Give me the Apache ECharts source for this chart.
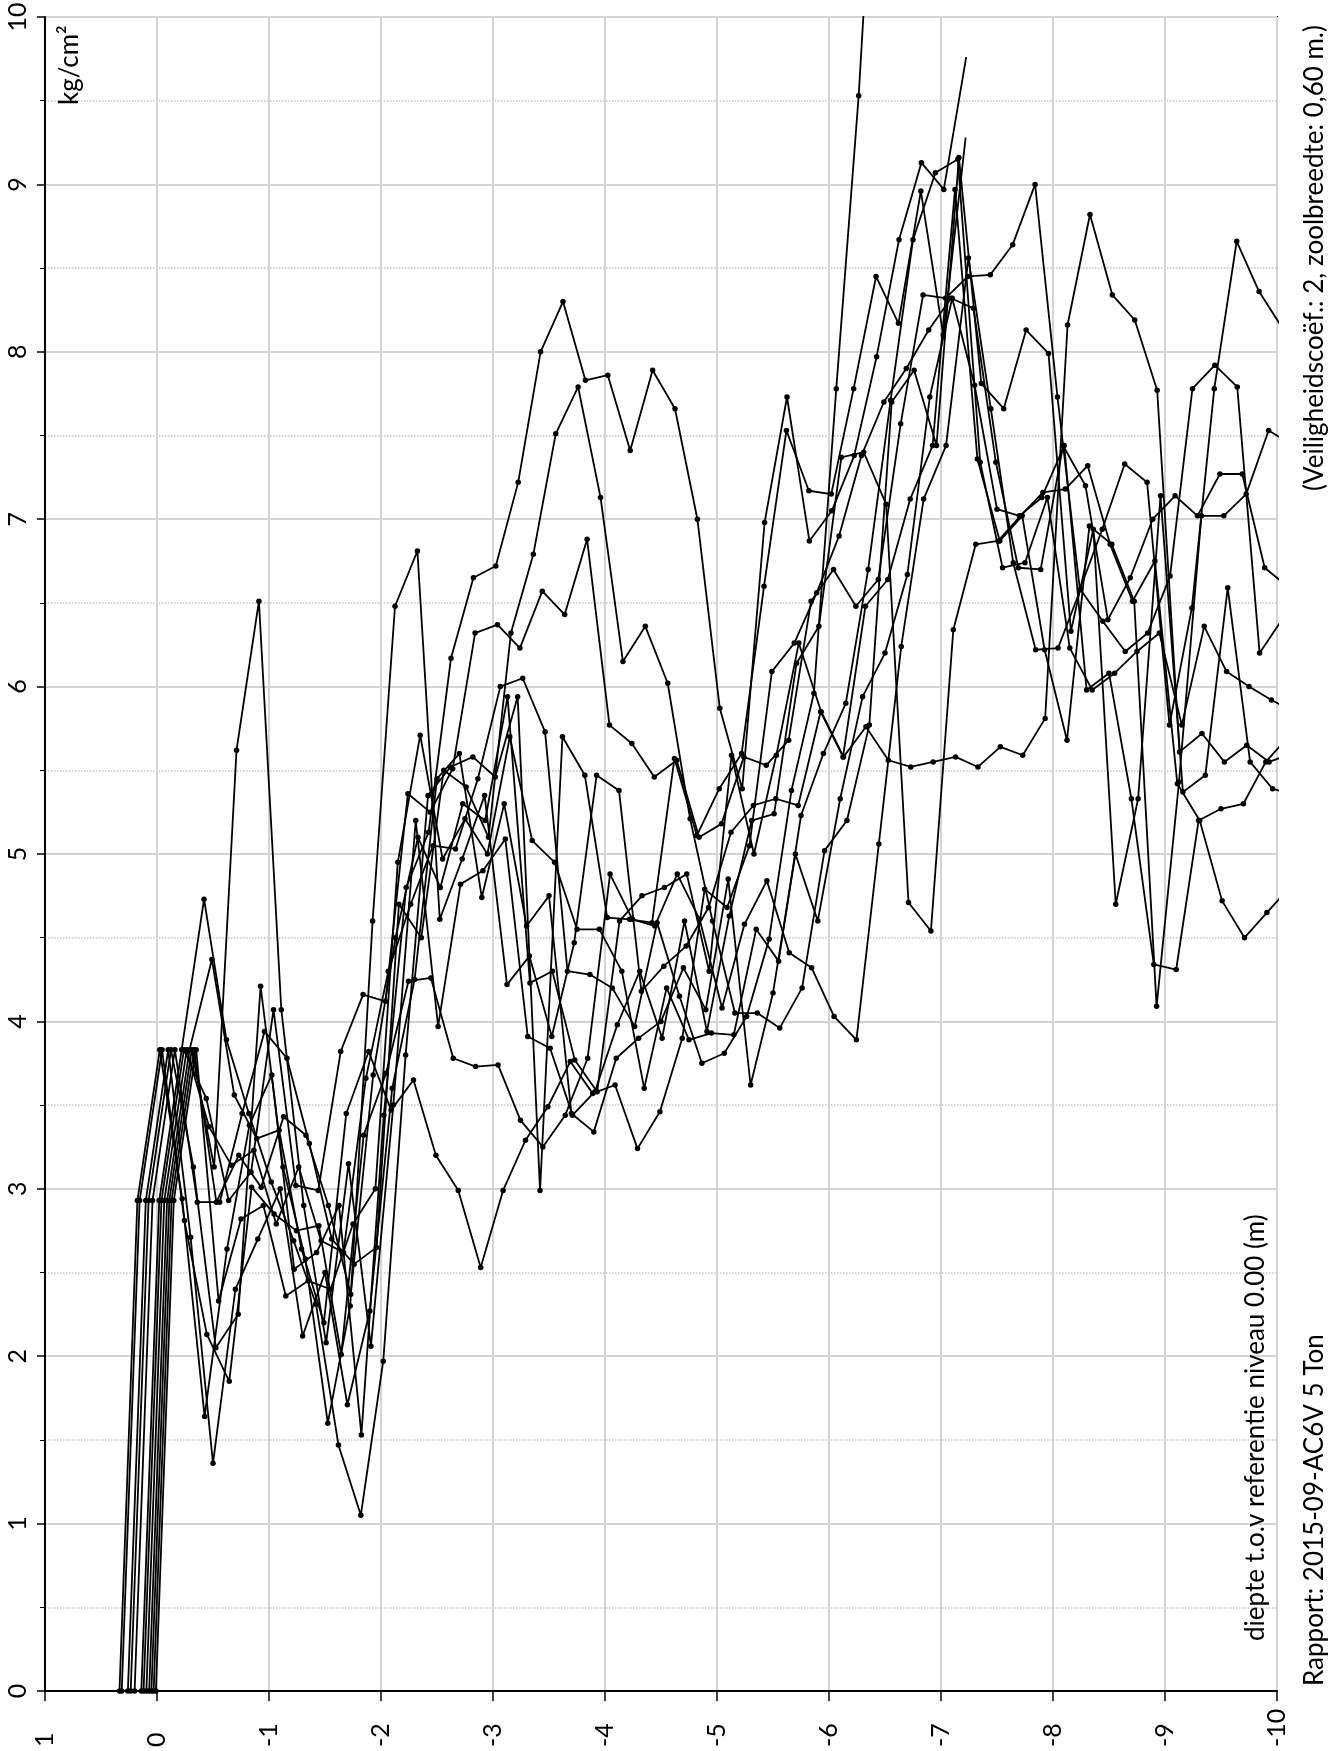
<!DOCTYPE html>
<html>
<head>
<meta charset="utf-8">
<script src="https://cdn.jsdelivr.net/npm/echarts@6/dist/echarts.min.js"></script>
<style>
  html, body { margin: 0; padding: 0; background: #fff; }
  #chart { width: 1342px; height: 1751px; }
</style>
</head>
<body>
<div id="chart"></div>
<script>
// sondeerwaarden (kg/cm2), één reeks per sondering, elke 0,20 m vanaf de startdiepte
var startDepths = [0.375, 0.355, 0.30, 0.275, 0.24, 0.18, 0.16, 0.135, 0.11, 0.09, 0.07, 0.05];
var depthStep = 0.2;
var surfaceShift = 0.04; // eerste punt (0 kg/cm2) ligt iets dieper dan de startdiepte

var s1 = [0, 2.93, 3.83, 2.94, 1.64, 2.64, 3.38, 3.68, 2.52, 2.62, 2.9, 1.53, 3.44, 4.8, 5.13, 6.17, 6.65, 6.72, 7.22, 8.0, 8.30, 7.83, 7.86, 7.41, 7.89, 7.66, 7.0, 5.87, 5.39, 6.98, 7.73, 6.87, 7.05, 7.38, 7.97, 8.67, 9.13, 8.97, 9.76];
var s2 = [0, 2.93, 3.83, 2.81, 2.13, 1.85, 3.01, 2.85, 2.75, 2.78, 2.01, 3.32, 3.69, 4.24, 4.26, 3.78, 3.73, 3.74, 3.41, 3.25, 3.44, 3.78, 4.88, 4.61, 4.57, 4.88, 4.61, 4.08, 4.58, 4.84, 4.41, 4.32, 4.03, 3.89, 5.06, 6.24, 7.12, 7.44, 8.56, 7.66, 6.74, 6.22, 6.23, 6.58, 6.39, 6.21, 6.32, 6.66, 7.78, 7.92, 7.79, 6.20, 6.4];
var s3 = [0, 2.93, 3.83, 2.71, 1.36, 2.40, 2.7, 3.0, 2.12, 2.5, 1.71, 2.27, 3.6, 4.25, 5.45, 5.6, 4.74, 5.30, 4.57, 4.75, 3.45, 3.34, 3.78, 3.90, 4.0, 4.32, 4.07, 4.85, 3.62, 4.17, 5.0, 4.6, 5.33, 5.94, 6.20, 6.67, 7.73, 8.32, 7.80, 7.06, 7.02, 7.13, 7.44, 5.98, 6.08, 5.33, 4.34, 4.31, 5.2, 5.27, 5.30, 5.55, 5.7];
var s4 = [0, 2.93, 3.83, 3.13, 2.05, 2.25, 4.21, 3.13, 2.58, 1.60, 2.3, 4.60, 6.48, 6.81, 4.61, 4.97, 5.35, 4.22, 4.39, 3.91, 4.47, 5.47, 5.38, 4.18, 4.33, 4.45, 4.68, 5.13, 5.29, 5.33, 5.29, 5.85, 5.58, 6.48, 6.64, 7.12, 7.44, 8.97, 7.36, 6.87, 7.02, 6.22, 5.68, 6.96, 6.85, 6.51, 4.09, 5.43, 7.02, 7.02, 7.15, 7.53, 7.45];
var s5 = [0, 2.93, 3.83, 2.92, 2.92, 3.45, 3.94, 3.78, 3.27, 2.7, 2.55, 2.65, 4.7, 4.5, 5.5, 5.4, 5.1, 6.32, 6.79, 7.51, 7.79, 7.13, 6.15, 6.36, 6.02, 5.21, 4.6, 4.05, 4.05, 3.96, 4.20, 5.02, 5.2, 5.77, 7.70, 7.89, 7.44, 9.16, 7.81, 7.66, 8.13, 7.99, 6.33, 6.94, 4.70, 5.33, 7.14, 5.37, 5.47, 6.59, 5.55, 5.39, 5.35];
var s6 = [0, 2.93, 3.83, 4.73, 3.89, 3.45, 3.04, 2.69, 2.31, 1.47, 1.05, 1.97, 3.8, 5.35, 5.52, 5.58, 5.46, 5.94, 2.99, 5.70, 5.47, 4.62, 4.61, 4.59, 5.57, 5.11, 5.39, 5.60, 6.60, 7.53, 7.17, 7.15, 7.78, 8.45, 8.17, 8.96, 8.10, 9.28];
var s7 = [0, 2.93, 3.83, 3.54, 2.93, 3.1, 4.07, 3.02, 2.99, 3.82, 4.16, 4.12, 5.36, 5.25, 5.51, 6.32, 6.37, 6.23, 6.57, 6.43, 6.88, 5.77, 5.66, 5.46, 5.56, 5.10, 5.18, 5.58, 5.53, 5.68, 6.51, 6.70, 6.48, 6.64, 7.57, 8.34, 8.32, 8.45, 8.46, 8.64, 9.0, 7.73, 6.58, 6.94, 7.33, 7.22, 5.77, 6.47, 7.78, 8.66, 8.36, 8.15];
var s8 = [0, 2.93, 3.83, 3.37, 3.14, 3.23, 2.79, 3.13, 2.69, 2.62, 3.66, 4.3, 4.7, 5.05, 5.03, 5.45, 6.0, 6.05, 5.73, 4.30, 4.28, 4.20, 3.97, 4.59, 4.15, 3.75, 3.81, 4.03, 4.49, 5.38, 5.96, 7.78, 9.53, 11.8];
var s9 = [0, 2.93, 3.83, 4.37, 3.56, 3.3, 3.35, 2.64, 2.2, 3.45, 3.82, 3.47, 3.65, 3.20, 2.99, 2.53, 2.99, 3.29, 3.49, 3.76, 3.57, 3.62, 3.24, 3.46, 3.90, 4.79, 4.68, 5.05, 6.09, 6.26, 6.56, 6.9, 7.38, 7.7, 7.90, 8.13, 8.32, 8.26, 7.34, 6.71, 6.7, 7.44, 7.2, 6.4, 6.65, 7.0, 7.14, 7.02, 7.27, 7.27, 6.71, 6.6];
var s10 = [0, 2.93, 3.83, 3.13, 5.62, 6.51, 4.07, 2.9, 2.08, 3.15, 2.06, 3.5, 5.20, 3.97, 4.82, 4.9, 5.09, 3.91, 3.84, 3.44, 3.58, 3.98, 4.3, 3.9, 4.6, 3.94, 4.63, 5.20, 5.24, 6.14, 6.36, 7.37, 7.40, 7.09, 4.71, 4.54, 6.34, 6.85, 6.87, 7.02, 7.16, 7.18, 7.32, 6.85, 6.51, 6.75, 5.42, 5.2, 4.72, 4.50, 4.65, 4.8];
var s11 = [0, 2.93, 3.83, 2.92, 3.2, 3.01, 3.43, 3.32, 2.9, 2.37, 3.68, 4.5, 5.1, 4.8, 5.3, 5.2, 5.94, 4.23, 4.30, 3.77, 3.58, 4.6, 4.75, 4.8, 4.88, 4.3, 5.59, 5.0, 5.59, 6.26, 5.85, 5.58, 5.76, 5.56, 5.52, 5.55, 5.58, 5.52, 5.64, 5.59, 5.81, 8.16, 8.82, 8.34, 8.19, 7.77, 5.61, 5.72, 5.55, 5.65, 5.55, 5.6];
var s12 = [0, 2.93, 3.83, 2.33, 2.82, 2.9, 2.36, 2.45, 2.4, 2.79, 3.0, 4.95, 5.71, 4.97, 5.21, 5.0, 5.70, 5.08, 4.95, 4.55, 4.55, 4.3, 3.6, 4.2, 3.89, 3.93, 3.92, 4.55, 4.36, 5.23, 5.6, 5.9, 6.7, 7.71, 8.67, 9.07, 9.15, 7.34, 6.71, 6.74, 7.13, 6.23, 5.98, 6.08, 6.21, 6.32, 5.77, 6.36, 6.09, 6.0, 5.92, 5.85];

var runs = [s1, s2, s3, s4, s5, s6, s7, s8, s9, s10, s11, s12];
// reeksen die midden in de grafiek ophouden (laatste punt zonder bolletje)
var openEnd = [true, false, false, false, false, true, false, false, false, false, false, false];

var depthTicks = { min: -10, max: 1 };
var kgTicks = { min: 0, max: 10 };

var font = 'Lato, "Open Sans", sans-serif';
var myChart = echarts.init(document.getElementById('chart'));

var series = runs.map(function (vals, k) {
    var data = vals.map(function (v, i) {
        var d = i === 0 ? startDepths[k] - surfaceShift : startDepths[k] - depthStep * i;
        var item = { value: [+d.toFixed(3), v] };
        if (openEnd[k] && i === vals.length - 1) {
            item.symbol = 'none';
        }
        return item;
    });
    return {
        type: 'line',
        data: data,
        symbol: 'circle',
        symbolSize: 5.5,
        showSymbol: true,
        clip: true,
        silent: true,
        lineStyle: { color: '#000', width: 1.8 },
        itemStyle: { color: '#000' },
        z: 3
    };
});

var option = {
    animation: false,
    backgroundColor: '#fff',
    grid: {
        left: 45, top: 17, right: 65, bottom: 60,
        containLabel: false,
        outerBoundsMode: 'none',
        show: true,
        borderColor: '#000',
        borderWidth: 2,
        backgroundColor: 'transparent'
    },
    xAxis: {
        type: 'value',
        min: depthTicks.min,
        max: depthTicks.max,
        interval: 1,
        inverse: true,
        position: 'bottom',
        axisLine: { show: true, onZero: false, lineStyle: { color: '#000', width: 2 } },
        axisTick: { show: true, length: 10, lineStyle: { color: '#000', width: 1.5 } },
        axisLabel: {
            rotate: 90, align: 'left', verticalAlign: 'middle', margin: 56,
            fontFamily: font, fontSize: 25, color: '#000'
        },
        splitLine: { show: true, lineStyle: { color: '#d4d4d4', width: 2 } }
    },
    yAxis: {
        type: 'value',
        min: kgTicks.min,
        max: kgTicks.max,
        interval: 1,
        axisLine: { show: true, onZero: false, lineStyle: { color: '#000', width: 2 } },
        axisTick: { show: true, length: 8, lineStyle: { color: '#000', width: 1.5 } },
        minorTick: { show: true, splitNumber: 2, length: 5, lineStyle: { color: '#000', width: 1 } },
        minorSplitLine: { show: true, lineStyle: { color: '#c4c4c4', type: 'dotted', width: 1.5 } },
        axisLabel: {
            rotate: 90, align: 'center', verticalAlign: 'middle', margin: 27,
            fontFamily: font, fontSize: 25, color: '#000'
        },
        splitLine: { show: true, lineStyle: { color: '#d4d4d4', width: 2 } }
    },
    graphic: [
        {
            type: 'text', x: 70, y: 105, rotation: Math.PI / 2, z: 10,
            style: { text: 'kg/cm²', font: '26px ' + font, fill: '#000', align: 'left', verticalAlign: 'middle' }
        },
        {
            type: 'text', x: 1256, y: 1641, rotation: Math.PI / 2, z: 10,
            style: { text: 'diepte t.o.v referentie niveau 0.00 (m)', font: '26px ' + font, fill: '#000', align: 'left', verticalAlign: 'middle' }
        },
        {
            type: 'text', x: 1315, y: 1686, rotation: Math.PI / 2, z: 10,
            style: { text: 'Rapport: 2015-09-AC6V 5 Ton', font: '26px ' + font, fill: '#000', align: 'left', verticalAlign: 'middle' }
        },
        {
            type: 'text', x: 1315, y: 491, rotation: Math.PI / 2, z: 10,
            style: { text: '(Veiligheidscoëf.: 2, zoolbreedte: 0,60 m.)', font: '26px ' + font, fill: '#000', align: 'left', verticalAlign: 'middle' }
        }
    ],
    series: series
};

myChart.setOption(option);
</script>
</body>
</html>
